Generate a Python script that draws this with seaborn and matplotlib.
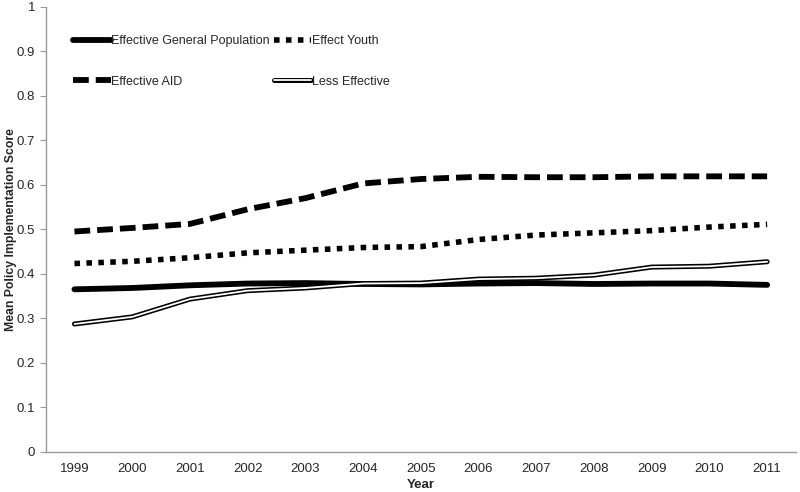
import pandas as pd
import seaborn as sns
import matplotlib.pyplot as plt

sns.set_style("white")
plt.rcParams['font.family'] = ['Liberation Sans', 'DejaVu Sans']

years = ["1999", "2000", "2001", "2002", "2003", "2004", "2005",
         "2006", "2007", "2008", "2009", "2010", "2011"]
general_pop = [0.365, 0.368, 0.374, 0.378, 0.379, 0.377, 0.376,
               0.378, 0.379, 0.377, 0.378, 0.378, 0.375]
youth = [0.423, 0.428, 0.436, 0.447, 0.453, 0.459, 0.461,
         0.477, 0.487, 0.492, 0.497, 0.505, 0.511]
aid = [0.495, 0.503, 0.512, 0.545, 0.570, 0.603, 0.613,
       0.618, 0.617, 0.617, 0.619, 0.619, 0.619]
less_effective = [0.287, 0.303, 0.343, 0.362, 0.368, 0.378, 0.379,
                  0.388, 0.390, 0.397, 0.415, 0.417, 0.427]

data = pd.DataFrame({
    "Year": years,
    "Effective General Population": general_pop,
    "Effect Youth": youth,
    "Effective AID": aid,
    "Less Effective": less_effective,
})

fig = plt.figure(figsize=(8, 4.92), dpi=100)
ax = fig.add_axes([0.057, 0.082, 0.938, 0.904])

sns.lineplot(data=data, x="Year", y="Effective General Population", ax=ax,
             color="black", linewidth=4.2, solid_capstyle="round")
sns.lineplot(data=data, x="Year", y="Effect Youth", ax=ax,
             color="black", linewidth=4.0, dashes=(1.0, 1.15),
             dash_capstyle="butt")
sns.lineplot(data=data, x="Year", y="Effective AID", ax=ax,
             color="black", linewidth=4.2, dashes=(2.7, 1.2),
             dash_capstyle="butt")
sns.lineplot(data=data, x="Year", y="Less Effective", ax=ax,
             color="black", linewidth=3.6)
sns.lineplot(data=data, x="Year", y="Less Effective", ax=ax,
             color="white", linewidth=1.3)

# legend rows: general / youth, then AID / less effective
lines = ax.get_lines()
handles = [lines[0], lines[2], lines[1], (lines[3], lines[4])]
labels = ["Effective General Population", "Effective AID",
          "Effect Youth", "Less Effective"]
ax.legend(handles, labels, ncol=2, loc="upper left",
          bbox_to_anchor=(0.03, 0.948), frameon=False, fontsize=9,
          handlelength=3.0, handletextpad=0.05, labelspacing=2.3,
          columnspacing=0.3, borderaxespad=0)

ax.set_ylim(0, 1)
ax.set_xlim(-0.5, len(years) - 0.5)
ax.set_yticks([i / 10 for i in range(11)])
ax.set_yticklabels(["0"] + [f"{i / 10:g}" for i in range(1, 10)] + ["1"])
ax.set_xticks(range(len(years)))
ax.set_xticks([i - 0.5 for i in range(len(years) + 1)], minor=True)
ax.tick_params(axis="x", which="major", length=0, labelsize=9.5, pad=8)
ax.tick_params(axis="x", which="minor", length=5, color="#999999", direction="out")
ax.tick_params(axis="y", length=4, color="#999999", direction="out", labelsize=9.5)
ax.tick_params(axis="both", bottom=True, left=True)

sns.despine(ax=ax)
for side in ["left", "bottom"]:
    ax.spines[side].set_color("#999999")
    ax.spines[side].set_linewidth(1.0)

ax.set_xlabel("Year", fontweight="bold", fontsize=9.5, labelpad=3)
ax.set_ylabel("Mean Policy Implementation Score", fontweight="bold",
              fontsize=8.8, labelpad=0)

plt.savefig("out.png", dpi=100)
